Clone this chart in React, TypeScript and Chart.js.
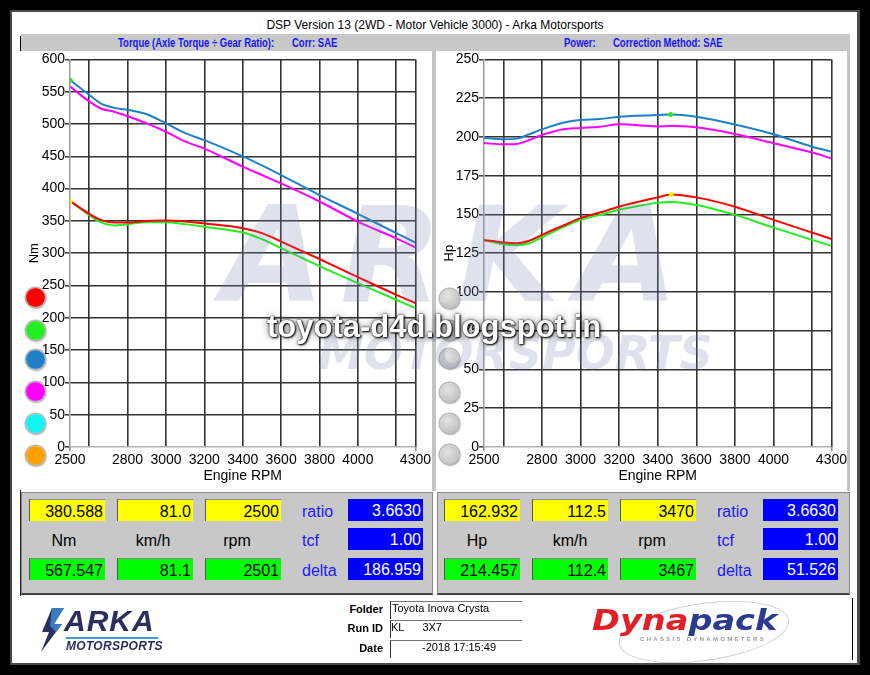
import React, { useEffect, useRef } from 'react';
import { Chart, registerables } from 'chart.js';

Chart.register(...registerables);

const FONT = '"Liberation Sans", Arial, Helvetica, sans-serif';

// ---------- data: torque chart (Nm) ----------
const torqueRpm = [2500, 2600, 2660, 2730, 2800, 2900, 3000, 3100, 3200, 3400, 3500, 3600, 3800, 4000, 4200, 4300];
const torqueBlue = [568, 545, 532, 525, 522, 515, 501, 486, 475, 450, 436, 421, 390, 361, 331, 316.5];
const torqueMagenta = [558, 535, 524, 519, 512, 501, 488, 473, 462, 434, 421, 408, 380, 349, 323, 309];
const torqueRed = [380.6, 361, 351.6, 347.5, 347.5, 350, 350.5, 349, 346, 338.7, 331, 318, 291, 263, 235.6, 222.7];
const torqueGreen = [381, 359, 348, 343, 345, 348, 348, 345, 341, 332, 321.7, 307.8, 280, 253.6, 228, 215];
const torqueMarkerGreen = { x: 2501, y: 567.547 };
const torqueMarkerYellow = { x: 2500, y: 380.588 };

// ---------- data: power chart (Hp) ----------
const powerRpm = [2500, 2600, 2670, 2735, 2800, 2910, 3000, 3100, 3200, 3400, 3470, 3600, 3800, 4000, 4200, 4300];
const powerBlue = [199.3, 198.5, 198.9, 201.7, 204.9, 209.2, 210.9, 211.6, 213, 214.1, 214.46, 213, 208, 201.7, 193.7, 190.5];
const powerMagenta = [196, 195.2, 195.5, 198, 201.2, 205, 205.8, 206.6, 208.1, 206.8, 207, 206.2, 201.9, 195.9, 189.9, 186.2];
const powerRed = [133.6, 131.9, 131.4, 133, 136.8, 142.8, 147.6, 151.2, 155, 161, 162.93, 161, 155, 146.5, 138.3, 134.2];
const powerGreen = [133.6, 130.8, 130.2, 131.4, 135.3, 141.8, 146.5, 149.7, 153, 157.6, 158.1, 156.1, 149.7, 141.5, 133.6, 129.7];
const powerMarkerGreen = { x: 3467, y: 214.457 };
const powerMarkerYellow = { x: 3470, y: 162.932 };

// ---------- axes ----------
const xTickValues = [2500, 2600, 2800, 3000, 3200, 3400, 3600, 3800, 4000, 4200, 4300];
const xUnlabeled = [2600, 4200];

// ---------- readout panels ----------
const leftYellow = ['380.588', '81.0', '2500'];
const leftGreen = ['567.547', '81.1', '2501'];
const leftUnits = ['Nm', 'km/h', 'rpm'];
const leftBlue = ['3.6630', '1.00', '186.959'];
const rightYellow = ['162.932', '112.5', '3470'];
const rightGreen = ['214.457', '112.4', '3467'];
const rightUnits = ['Hp', 'km/h', 'rpm'];
const rightBlue = ['3.6630', '1.00', '51.526'];
const sideLabels = ['ratio', 'tcf', 'delta'];

const C_RED = '#ff0000';
const C_GREEN = '#22ee22';
const C_BLUE = '#1f80c6';
const C_MAGENTA = '#ff00ff';

type Pt = { x: number; y: number };
const pts = (xs: number[], ys: number[]): Pt[] => xs.map((x, i) => ({ x, y: ys[i] }));

interface ChartProps {
  left: number;
  top: number;
  width: number;
  height: number;
  yAxisWidth: number;
  rpm: number[];
  blue: number[];
  magenta: number[];
  red: number[];
  green: number[];
  mGreen: Pt;
  mYellow: Pt;
  yMax: number;
  yStep: number;
  yTitle: string;
  yTitlePad: number;
}

function DynoChart(p: ChartProps) {
  const ref = useRef<HTMLCanvasElement>(null);
  useEffect(() => {
    const line = (data: Pt[], color: string) => ({
      data,
      borderColor: color,
      backgroundColor: color,
      borderWidth: 2,
      pointRadius: 0,
      fill: false,
      cubicInterpolationMode: 'monotone' as const,
    });
    const marker = (pt: Pt, color: string) => ({
      data: [pt],
      showLine: false,
      pointRadius: 2.5,
      pointBorderWidth: 0,
      pointBackgroundColor: color,
      borderColor: color,
      backgroundColor: color,
    });
    const chart = new Chart(ref.current!, {
      type: 'line',
      data: {
        datasets: [
          marker(p.mGreen, '#22ee22') as any,
          marker(p.mYellow, '#ffee00') as any,
          line(pts(p.rpm, p.red), C_RED),
          line(pts(p.rpm, p.green), C_GREEN),
          line(pts(p.rpm, p.blue), C_BLUE),
          line(pts(p.rpm, p.magenta), C_MAGENTA),
        ],
      },
      options: {
        animation: false,
        responsive: true,
        maintainAspectRatio: false,
        layout: { padding: { top: 8, right: 15, left: 0, bottom: 0 } },
        plugins: { legend: { display: false }, tooltip: { enabled: false } },
        scales: {
          x: {
            type: 'linear',
            min: 2500,
            max: 4300,
            afterBuildTicks: (s: any) => {
              s.ticks = xTickValues.map((v) => ({ value: v }));
            },
            afterFit: (s: any) => {
              s.height = 43;
            },
            ticks: {
              autoSkip: false,
              maxRotation: 0,
              padding: 1,
              color: '#000',
              font: { family: FONT, size: 14 },
              callback: (v: any) => (xUnlabeled.includes(Number(v)) ? '' : String(v)),
            },
            grid: {
              color: (c: any) => (c.tick && c.tick.value === 2500 ? 'rgba(0,0,0,0)' : '#333333'),
              lineWidth: 1.6,
              tickLength: 4,
              tickColor: (c: any) =>
                c.tick && (c.tick.value === 2500 || c.tick.value === 4300) ? '#8a8a8a' : 'rgba(0,0,0,0)',
            },
            border: { display: false },
            title: {
              display: true,
              text: 'Engine RPM',
              color: '#000',
              font: { family: FONT, size: 14 },
              padding: { top: 0, bottom: 5 },
            },
          },
          y: {
            type: 'linear',
            min: 0,
            max: p.yMax,
            afterFit: (s: any) => {
              s.width = p.yAxisWidth;
            },
            ticks: {
              stepSize: p.yStep,
              padding: 0,
              color: '#000',
              font: { family: FONT, size: 14 },
            },
            grid: {
              color: (c: any) => (c.tick && c.tick.value === 0 ? '#b0b0b0' : '#333333'),
              lineWidth: 1.6,
              tickLength: 5,
              tickColor: '#444',
            },
            border: { display: true, color: '#9a9a9a', width: 1.5 },
            title: {
              display: true,
              text: p.yTitle,
              color: '#000',
              font: { family: FONT, size: 13 },
              padding: { top: p.yTitlePad, bottom: 0 },
            },
          },
        },
      } as any,
    });
    return () => chart.destroy();
  }, []);
  return (
    <div style={{ position: 'absolute', left: p.left, top: p.top, width: p.width, height: p.height }}>
      <canvas ref={ref} />
    </div>
  );
}

const abs = (s: React.CSSProperties): React.CSSProperties => ({ position: 'absolute', ...s });

function Dot({ x, y, color, gray }: { x: number; y: number; color: string; gray?: boolean }) {
  const d = 19;
  return (
    <div
      style={abs({
        left: x - d / 2,
        top: y - d / 2,
        width: d,
        height: d,
        borderRadius: '50%',
        background: gray
          ? 'radial-gradient(circle at 40% 35%, #e4e4e4, #c4c4c4 70%, #b0b0b0)'
          : `radial-gradient(circle at 40% 35%, ${color}, ${color} 75%)`,
        boxShadow: '0 0 0 1.5px #b8b8b8, 1px 1.5px 2px #888',
      })}
    />
  );
}

function Box({ x, y, w, bg, text, color, edge }: { x: number; y: number; w: number; bg: string; text: string; color: string; edge?: boolean }) {
  return (
    <div
      style={abs({
        left: x,
        top: y,
        width: w,
        height: 22,
        background: bg,
        color,
        font: `16px ${FONT}`,
        lineHeight: '23px',
        textAlign: 'right',
        paddingRight: 2,
        boxSizing: 'border-box',
        borderLeft: edge ? '1px solid #555' : undefined,
        borderTop: edge ? '1px solid #888' : undefined,
      })}
    >
      {text}
    </div>
  );
}

function Readout({
  px, pw, yellowX, unitCenters, labelX, blueX, yellow, green, units, blue,
}: {
  px: number; pw: number; yellowX: number[]; unitCenters: number[]; labelX: number; blueX: number;
  yellow: string[]; green: string[]; units: string[]; blue: string[];
}) {
  const rowsY = [499, 528, 558];
  return (
    <>
      <div
        style={abs({
          left: px,
          top: 492,
          width: pw,
          height: 103,
          background: '#c8c8c8',
          boxSizing: 'border-box',
          border: '1px solid #8a8a8a',
          borderBottom: '2px solid #444',
        })}
      />
      {yellowX.map((x, i) => (
        <Box key={'y' + i} x={x} y={rowsY[0]} w={76} bg="#ffff00" text={yellow[i]} color="#000" edge />
      ))}
      {yellowX.map((x, i) => (
        <Box key={'g' + i} x={x} y={rowsY[2]} w={76} bg="#00ff00" text={green[i]} color="#000" edge />
      ))}
      {unitCenters.map((c, i) => (
        <div key={'u' + i} style={abs({ left: c - 40, width: 80, top: 532, textAlign: 'center', font: `16px ${FONT}`, color: '#000' })}>
          {units[i]}
        </div>
      ))}
      {sideLabels.map((t, i) => (
        <div key={'l' + i} style={abs({ left: labelX, top: rowsY[i] + 4, font: `16px ${FONT}`, color: '#1a1aff' })}>
          {t}
        </div>
      ))}
      {rowsY.map((y, i) => (
        <Box key={'b' + i} x={blueX} y={y} w={75} bg="#0000ff" text={blue[i]} color="#fff" />
      ))}
    </>
  );
}

export default function App() {
  const headerText = (text: string, left: number, width: number) => (
    <div
      style={abs({
        left,
        top: 35,
        width,
        height: 15,
        overflow: 'visible',
        whiteSpace: 'nowrap',
        font: `bold 13px ${FONT}`,
        lineHeight: '15px',
        color: '#1515ff',
      })}
    >
      <span style={{ display: 'inline-block', transform: 'scaleX(0.73)', transformOrigin: 'left center' }}>{text}</span>
    </div>
  );

  return (
    <div style={{ position: 'fixed', left: 0, top: 0, width: 870, height: 675, background: '#000', overflow: 'hidden', fontFamily: FONT }}>
      {/* white sheet */}
      <div style={abs({ left: 10, top: 10, width: 850, height: 655, background: '#4a4a4a' })} />
      <div style={abs({ left: 12, top: 12, width: 845, height: 651, background: '#fff' })} />

      {/* title */}
      <div style={abs({ left: 0, width: 870, top: 18, textAlign: 'center', font: `12px ${FONT}`, color: '#000' })}>
        DSP Version 13 (2WD - Motor Vehicle 3000) - Arka Motorsports
      </div>

      {/* header bar */}
      <div style={abs({ left: 21, top: 34, width: 829, height: 17, background: '#c8c8c8' })} />
      <div style={abs({ left: 20, top: 36, width: 1, height: 15, background: '#000' })} />
      {headerText('Torque (Axle Torque \u00f7 Gear Ratio):', 118, 160)}
      {headerText('Corr: SAE', 292, 50)}
      {headerText('Power:', 564, 40)}
      {headerText('Correction Method: SAE', 613, 120)}

      {/* panel separators */}
      <div style={abs({ left: 432, top: 51, width: 4, height: 440, background: '#c4c4c4' })} />
      <div style={abs({ left: 847, top: 51, width: 3, height: 440, background: '#c4c4c4' })} />

      {/* charts */}
      <DynoChart
        left={20}
        top={51}
        width={412}
        height={439}
        yAxisWidth={50}
        rpm={torqueRpm}
        blue={torqueBlue}
        magenta={torqueMagenta}
        red={torqueRed}
        green={torqueGreen}
        mGreen={torqueMarkerGreen}
        mYellow={torqueMarkerYellow}
        yMax={600}
        yStep={50}
        yTitle="Nm"
        yTitlePad={6.5}
      />
      <DynoChart
        left={436}
        top={51}
        width={412}
        height={439}
        yAxisWidth={48}
        rpm={powerRpm}
        blue={powerBlue}
        magenta={powerMagenta}
        red={powerRed}
        green={powerGreen}
        mGreen={powerMarkerGreen}
        mYellow={powerMarkerYellow}
        yMax={250}
        yStep={25}
        yTitle="Hp"
        yTitlePad={6}
      />

      {/* run selector dots */}
      {[
        [297, C_RED],
        [330, '#22ee22'],
        [359, C_BLUE],
        [391, C_MAGENTA],
        [423, '#11f4f4'],
        [455, '#ffa000'],
      ].map(([y, c], i) => (
        <Dot key={'d' + i} x={35} y={y as number} color={c as string} />
      ))}
      {[298, 330, 358, 392, 423, 454].map((y, i) => (
        <Dot key={'g' + i} x={449} y={y} color="#ccc" gray />
      ))}

      {/* watermark */}
      <div
        style={abs({
          left: 222,
          top: 178,
          font: `italic 900 132px "DejaVu Sans", ${FONT}`,
          letterSpacing: 16,
          color: 'rgba(120,130,175,0.24)',
          whiteSpace: 'nowrap',
          pointerEvents: 'none',
        })}
      >
        ARKA
      </div>
      <div
        style={abs({
          left: 318,
          top: 326,
          font: `italic bold 46px "DejaVu Sans", ${FONT}`,
          letterSpacing: 0,
          color: 'rgba(120,130,175,0.24)',
          whiteSpace: 'nowrap',
          pointerEvents: 'none',
        })}
      >
        MOTORSPORTS
      </div>
      <div
        style={abs({
          left: 267,
          top: 309,
          font: `bold 31px ${FONT}`,
          color: '#fff',
          whiteSpace: 'nowrap',
          textShadow: '0 0 2px #000, 1px 1px 2px #000, 0 0 7px rgba(0,0,0,0.6)',
          pointerEvents: 'none',
        })}
      >
        toyota-d4d.blogspot.in
      </div>

      {/* readout panels */}
      <div style={abs({ left: 20, top: 490, width: 1, height: 106, background: '#222' })} />
      <Readout
        px={21}
        pw={412}
        yellowX={[29, 117, 205]}
        unitCenters={[64, 153, 237]}
        labelX={302}
        blueX={348}
        yellow={leftYellow}
        green={leftGreen}
        units={leftUnits}
        blue={leftBlue}
      />
      <Readout
        px={437}
        pw={413}
        yellowX={[444, 532, 620]}
        unitCenters={[477, 570, 652]}
        labelX={717}
        blueX={763}
        yellow={rightYellow}
        green={rightGreen}
        units={rightUnits}
        blue={rightBlue}
      />

      {/* footer: Arka logo */}
      <svg style={abs({ left: 38, top: 606, width: 32, height: 48 })} viewBox="0 0 32 48">
        <polygon points="14,2 4,26 11,26 3,46 24,18 16,18 26,2" fill="#2b2f63" />
        <polygon points="14,2 26,2 16,18 24,18 18,26 12,20" fill="#3d8fd8" opacity="0.8" />
      </svg>
      <div style={abs({ left: 64, top: 604, font: `italic bold 30px ${FONT}`, color: '#2b2d5c', letterSpacing: 1 })}>ARKA</div>
      <div style={abs({ left: 66, top: 637, width: 92, height: 2, background: '#3d9ae0' })} />
      <div style={abs({ left: 66, top: 639, font: `italic bold 12px ${FONT}`, color: '#2b2d5c', letterSpacing: 0.3 })}>MOTORSPORTS</div>

      {/* footer: run info */}
      {[
        ['Folder', 'Toyota Inova Crysta', 601, 392],
        ['Run ID', 'KL      3X7', 620, 391],
        ['Date', '-2018 17:15:49', 640, 422],
      ].map(([lab, val, y, vx], i) => (
        <React.Fragment key={'f' + i}>
          <div style={abs({ left: 300, width: 83, top: (y as number) + 2, textAlign: 'right', font: `bold 11px ${FONT}`, color: '#000' })}>
            {lab}
          </div>
          <div style={abs({ left: 390, top: y as number, width: 132, height: 18, borderTop: '1px solid #777', borderLeft: '1px solid #333', boxSizing: 'border-box' })} />
          <div style={abs({ left: vx as number, top: (y as number) + 1, font: `11px ${FONT}`, color: '#000', whiteSpace: 'pre' })}>{val}</div>
        </React.Fragment>
      ))}

      {/* footer: Dynapack logo */}
      <div
        style={abs({
          left: 618,
          top: 603,
          width: 170,
          height: 56,
          borderRadius: '50%',
          border: '1.5px solid #cfcfcf',
          transform: 'rotate(-8deg)',
        })}
      />
      <div
        style={abs({
          left: 592,
          top: 604,
          font: `italic 900 28px "DejaVu Sans", ${FONT}`,
          whiteSpace: 'nowrap',
          transform: 'scaleX(1.2)',
          transformOrigin: 'left top',
        })}
      >
        <span style={{ color: '#e21f26' }}>Dyna</span>
        <span style={{ color: '#2b3c8f' }}>pack</span>
      </div>
      <div style={abs({ left: 640, top: 636, font: `bold 6px ${FONT}`, color: '#999', letterSpacing: 2.3, whiteSpace: 'nowrap' })}>
        CHASSIS DYNAMOMETERS
      </div>
      <div style={abs({ left: 852, top: 598, width: 1, height: 62, background: '#000' })} />
    </div>
  );
}
